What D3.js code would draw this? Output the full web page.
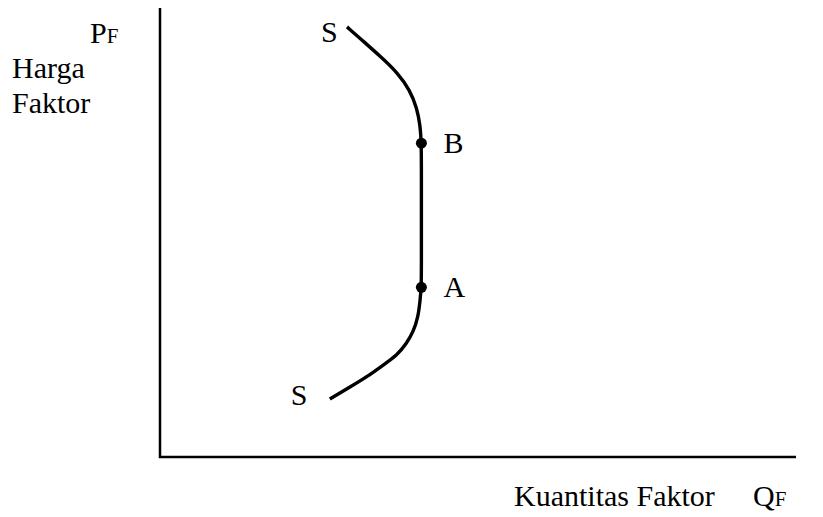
<!DOCTYPE html>
<html>
<head>
<meta charset="utf-8">
<script src="https://cdn.jsdelivr.net/npm/d3@7"></script>
<style>
  body { margin: 0; background: #fff; }
</style>
</head>
<body>
<div class="chart"></div>
<script>
const WIDTH = 823
const HEIGHT = 517
const FONT = '"Liberation Serif"'
const SIZE = 30
const SUB_SIZE = 21

// supply curve S, (quantity, price) in chart units 0..100, from bottom to top
const CURVE_Q = [26.7, 29.9, 32.5, 35.1, 37.3, 38.8, 39.8, 40.6, 40.9, 41.1, 41.1, 41.1, 41.1, 41.1, 40.9, 40.4, 39.3, 37.4, 34.6, 32.1, 29.4]
const CURVE_P = [12.9, 15.6, 17.8, 20.5, 22.7, 25.4, 27.8, 31.2, 35.0, 37.8, 45.0, 53.7, 62.0, 69.9, 73.9, 77.7, 81.7, 85.5, 89.3, 92.4, 95.8]

// marked points
const POINT_NAMES = ["B", "A"]
const POINT_Q = [41.1, 41.1]
const POINT_P = [69.9, 37.8]

const Y_LABELS = ["Harga", "Faktor"]
const X_LABEL = "Kuantitas Faktor"

const svg = d3.select(".chart").append("svg").attr("width", WIDTH).attr("height", HEIGHT)

let x = d3.scaleLinear().domain([0, 100]).range([160, 796])
let y = d3.scaleLinear().domain([0, 100]).range([457, 8])

function label(px, py, str, size) {
  return svg.append("text").attr("x", px).attr("y", py)
    .style("font-family", FONT).style("font-size", (size || SIZE) + "px").text(str)
}

// axes
svg.append("path")
  .attr("d", `M${x(0)},${y(100)}V${y(0)}H${x(100)}`)
  .attr("fill", "none").attr("stroke", "#000").attr("stroke-width", 2.5)

// curve
let curve = CURVE_Q.map((q, i) => [q, CURVE_P[i]])
let line = d3.line().x(d => x(d[0])).y(d => y(d[1])).curve(d3.curveBasis)
svg.append("path").attr("d", line(curve))
  .attr("fill", "none").attr("stroke", "#000").attr("stroke-width", 3.4)

// points A, B
POINT_NAMES.forEach((name, i) => {
  svg.append("circle").attr("cx", x(POINT_Q[i])).attr("cy", y(POINT_P[i])).attr("r", 5.5)
  label(x(POINT_Q[i]) + 22, y(POINT_P[i]) + 10, name)
})

// S labels at both ends
let first = curve[0], last = curve[curve.length - 1]
label(x(last[0]) - 26, y(last[1]) + 15, "S")
label(x(first[0]) - 39, y(first[1]) + 6, "S")

// y label
let pf = label(90, 43, "P")
pf.append("tspan").style("font-size", SUB_SIZE + "px").text("F")
Y_LABELS.forEach((t, i) => label(12, 78 + i * 35, t))

// x label
label(514, 506, X_LABEL)
let qf = label(753, 506, "Q")
qf.append("tspan").style("font-size", SUB_SIZE + "px").text("F")
</script>
</body>
</html>
